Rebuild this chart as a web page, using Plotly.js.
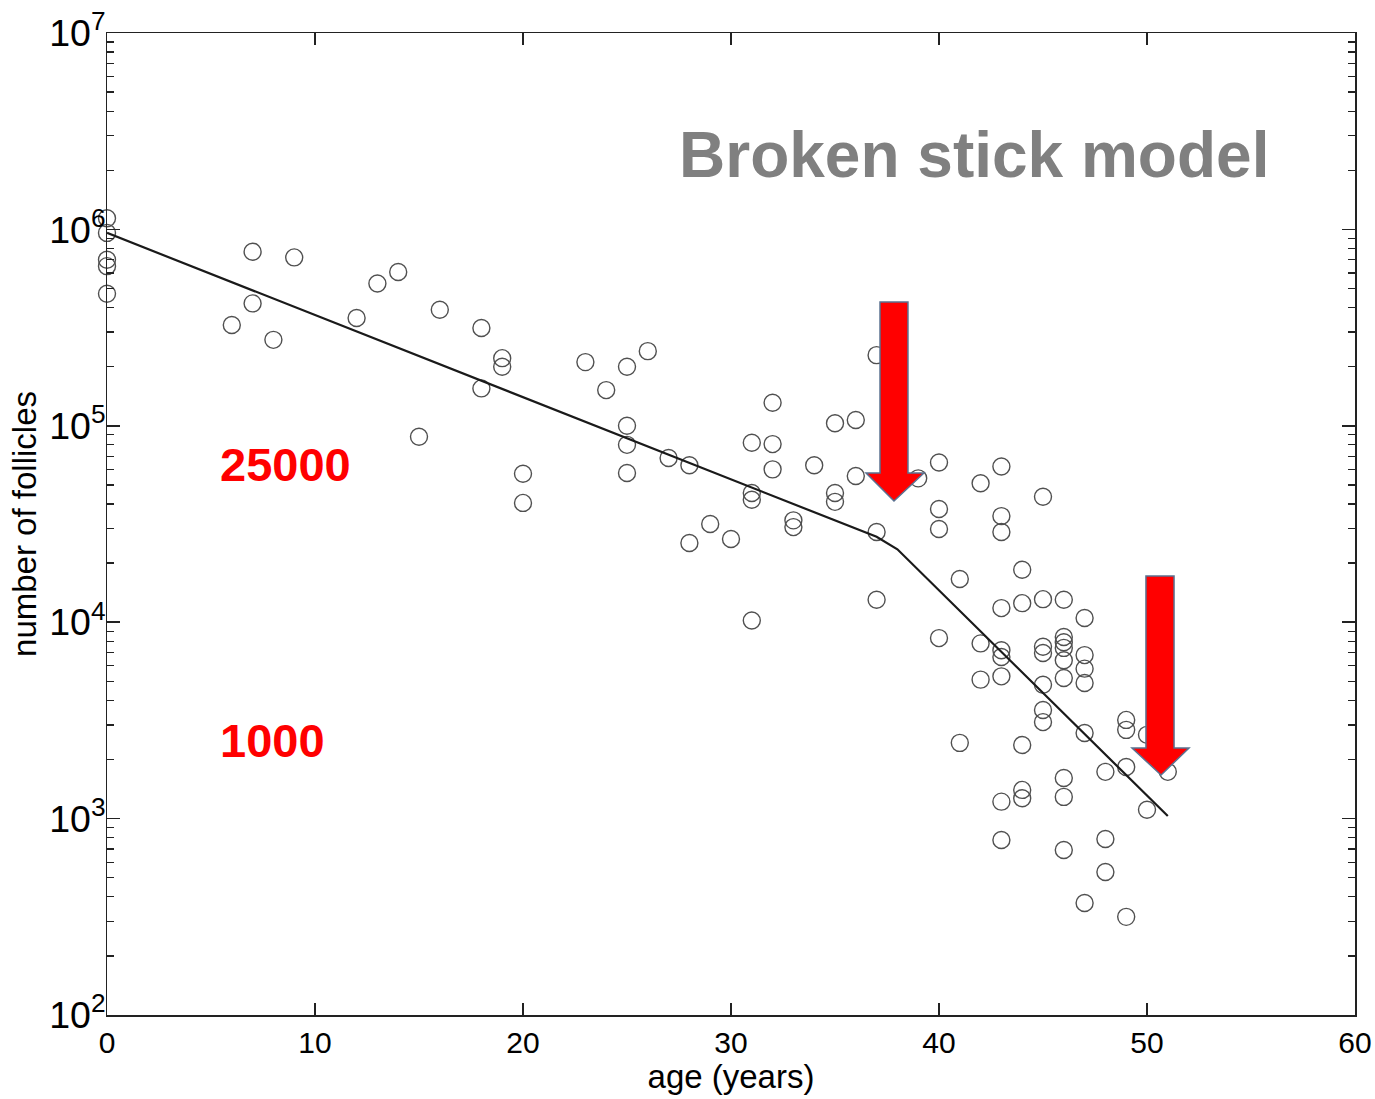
<!DOCTYPE html>
<html>
<head>
<meta charset="utf-8">
<script src="https://cdn.plot.ly/plotly-3.0.1.min.js"></script>
<style>
  html, body { margin: 0; padding: 0; background: #fff; }
  #chart { width: 1375px; height: 1099px; }
</style>
</head>
<body>
<div id="chart"></div>
<script>
// Observed data: age (years) and number of follicles
const ages = [
  0, 0, 0, 0, 0,
  6, 7, 7, 8, 9, 12, 13, 14, 15, 16,
  18, 18, 19, 19, 20, 20,
  23, 24, 25, 25, 25, 25, 26, 27, 28, 28, 29, 30,
  31, 31, 31, 31, 32, 32, 32, 33, 33, 34,
  35, 35, 35, 36, 36, 37, 37, 37, 39,
  40, 40, 40, 40, 41, 41, 42, 42, 42,
  43, 43, 43, 43, 43, 43, 43, 43, 43,
  44, 44, 44, 44, 44,
  45, 45, 45, 45, 45, 45, 45,
  46, 46, 46, 46, 46, 46, 46, 46, 46,
  47, 47, 47, 47, 47, 47,
  48, 48, 48, 49, 49, 49, 49, 50, 50, 51
];
const follicles = [
  1.14e6, 9.6e5, 7.0e5, 6.5e5, 4.7e5,
  3.26e5, 7.7e5, 4.2e5, 2.74e5, 7.2e5, 3.54e5, 5.3e5, 6.07e5, 8.8e4, 3.9e5,
  3.15e5, 1.55e5, 2.21e5, 2.0e5, 5.7e4, 4.05e4,
  2.11e5, 1.52e5, 2.0e5, 1.0e5, 8.0e4, 5.75e4, 2.4e5, 6.85e4, 6.3e4, 2.53e4, 3.16e4, 2.65e4,
  8.2e4, 4.55e4, 4.2e4, 1.02e4, 1.31e5, 8.07e4, 6.0e4, 3.3e4, 3.05e4, 6.3e4,
  1.03e5, 4.55e4, 4.1e4, 1.07e5, 5.55e4, 2.29e5, 2.88e4, 1.3e4, 5.4e4,
  6.5e4, 3.77e4, 2.98e4, 8.3e3, 1.66e4, 2.43e3, 5.1e4, 7.8e3, 5.1e3,
  6.2e4, 3.47e4, 2.88e4, 1.18e4, 7.2e3, 6.65e3, 5.3e3, 1.22e3, 778,
  1.85e4, 1.25e4, 2.37e3, 1.4e3, 1.27e3,
  4.35e4, 1.31e4, 7.5e3, 6.97e3, 4.8e3, 3.57e3, 3.1e3,
  1.3e4, 8.4e3, 7.9e3, 7.4e3, 6.4e3, 5.2e3, 1.61e3, 1.29e3, 692,
  1.05e4, 6.8e3, 5.8e3, 4.9e3, 2.73e3, 372,
  1.73e3, 787, 535, 3.18e3, 2.83e3, 1.83e3, 316, 2.67e3, 1.11e3, 1.73e3
];

// Broken stick model fit
const modelAges = [0, 37, 38, 51];
const modelValues = [9.6e5, 2.72e4, 2.35e4, 1.03e3];

// Labels
const xTickVals = [0, 10, 20, 30, 40, 50, 60];
const chartTitle = "Broken stick model";
const label1 = "25000";
const label2 = "1000";
const xTitle = "age (years)";
const yTitle = "number of follicles";

const baseFont = "Liberation Sans, Arial, Helvetica, sans-serif";

const traces = [
  {
    x: ages, y: follicles, type: "scatter", mode: "markers",
    marker: { symbol: "circle-open", size: 17, color: "#505050", line: { width: 1.4, color: "#505050" } },
    cliponaxis: false, hoverinfo: "x+y"
  },
  {
    x: modelAges, y: modelValues, type: "scatter", mode: "lines",
    line: { color: "#1a1a1a", width: 2.2 }, cliponaxis: false
  }
];

function arrowPath(l, r, top, hy, hl, hr, tx, ty) {
  return `M ${l} ${top} L ${r} ${top} L ${r} ${hy} L ${hr} ${hy} L ${tx} ${ty} L ${hl} ${hy} L ${l} ${hy} Z`;
}

const layout = {
  width: 1375, height: 1099,
  margin: { l: 107, r: 20, t: 33, b: 84 },
  paper_bgcolor: "#fff", plot_bgcolor: "#fff",
  showlegend: false,
  font: { family: baseFont, color: "#000", size: 30 },
  xaxis: {
    range: [0, 60], tickvals: xTickVals, ticks: "inside", ticklen: 12, tickwidth: 1.5, tickcolor: "#222",
    showline: true, linecolor: "#222", linewidth: 1.5, mirror: "ticks",
    showgrid: false, zeroline: false,
    tickfont: { family: baseFont, size: 30, color: "#000" },
    title: { text: xTitle, font: { family: baseFont, size: 33, color: "#000" }, standoff: 6 }
  },
  yaxis: {
    type: "log", range: [2, 7], dtick: 1, exponentformat: "power", showexponent: "all",
    ticks: "inside", ticklen: 13, tickwidth: 1.5, tickcolor: "#222", ticklabelstandoff: -6,
    minor: { ticks: "inside", ticklen: 7, tickwidth: 1.3, tickcolor: "#222", dtick: "D1", showgrid: false },
    showline: true, linecolor: "#222", linewidth: 1.5, mirror: "ticks",
    showgrid: false, zeroline: false,
    tickfont: { family: baseFont, size: 30, color: "#000" },
    title: { text: yTitle, font: { family: baseFont, size: 33, color: "#000" }, standoff: 2 }
  },
  shapes: [
    { type: "path", xref: "paper", yref: "paper",
      path: arrowPath(0.6194, 0.6418, 0.7261, 0.5519, 0.6082, 0.6546, 0.6306, 0.5234),
      fillcolor: "#ff0000", line: { color: "#5a7190", width: 1.5 } },
    { type: "path", xref: "paper", yref: "paper",
      path: arrowPath(0.8325, 0.8550, 0.4470, 0.2719, 0.8213, 0.8670, 0.8446, 0.2444),
      fillcolor: "#ff0000", line: { color: "#5a7190", width: 1.5 } }
  ],
  annotations: [
    { text: "<b>" + chartTitle + "</b>", xref: "paper", yref: "paper", x: 0.6947, y: 0.8758,
      xanchor: "center", yanchor: "middle", showarrow: false,
      font: { family: baseFont, size: 64, color: "#808080" } },
    { text: "<b>" + label1 + "</b>", xref: "paper", yref: "paper", x: 0.0889, y: 0.5601,
      xanchor: "left", yanchor: "middle", showarrow: false,
      font: { family: baseFont, size: 47, color: "#ff0000" } },
    { text: "<b>" + label2 + "</b>", xref: "paper", yref: "paper", x: 0.0889, y: 0.2800,
      xanchor: "left", yanchor: "middle", showarrow: false,
      font: { family: baseFont, size: 47, color: "#ff0000" } }
  ]
};

Plotly.newPlot("chart", traces, layout, { displayModeBar: false, staticPlot: true });
</script>
</body>
</html>
